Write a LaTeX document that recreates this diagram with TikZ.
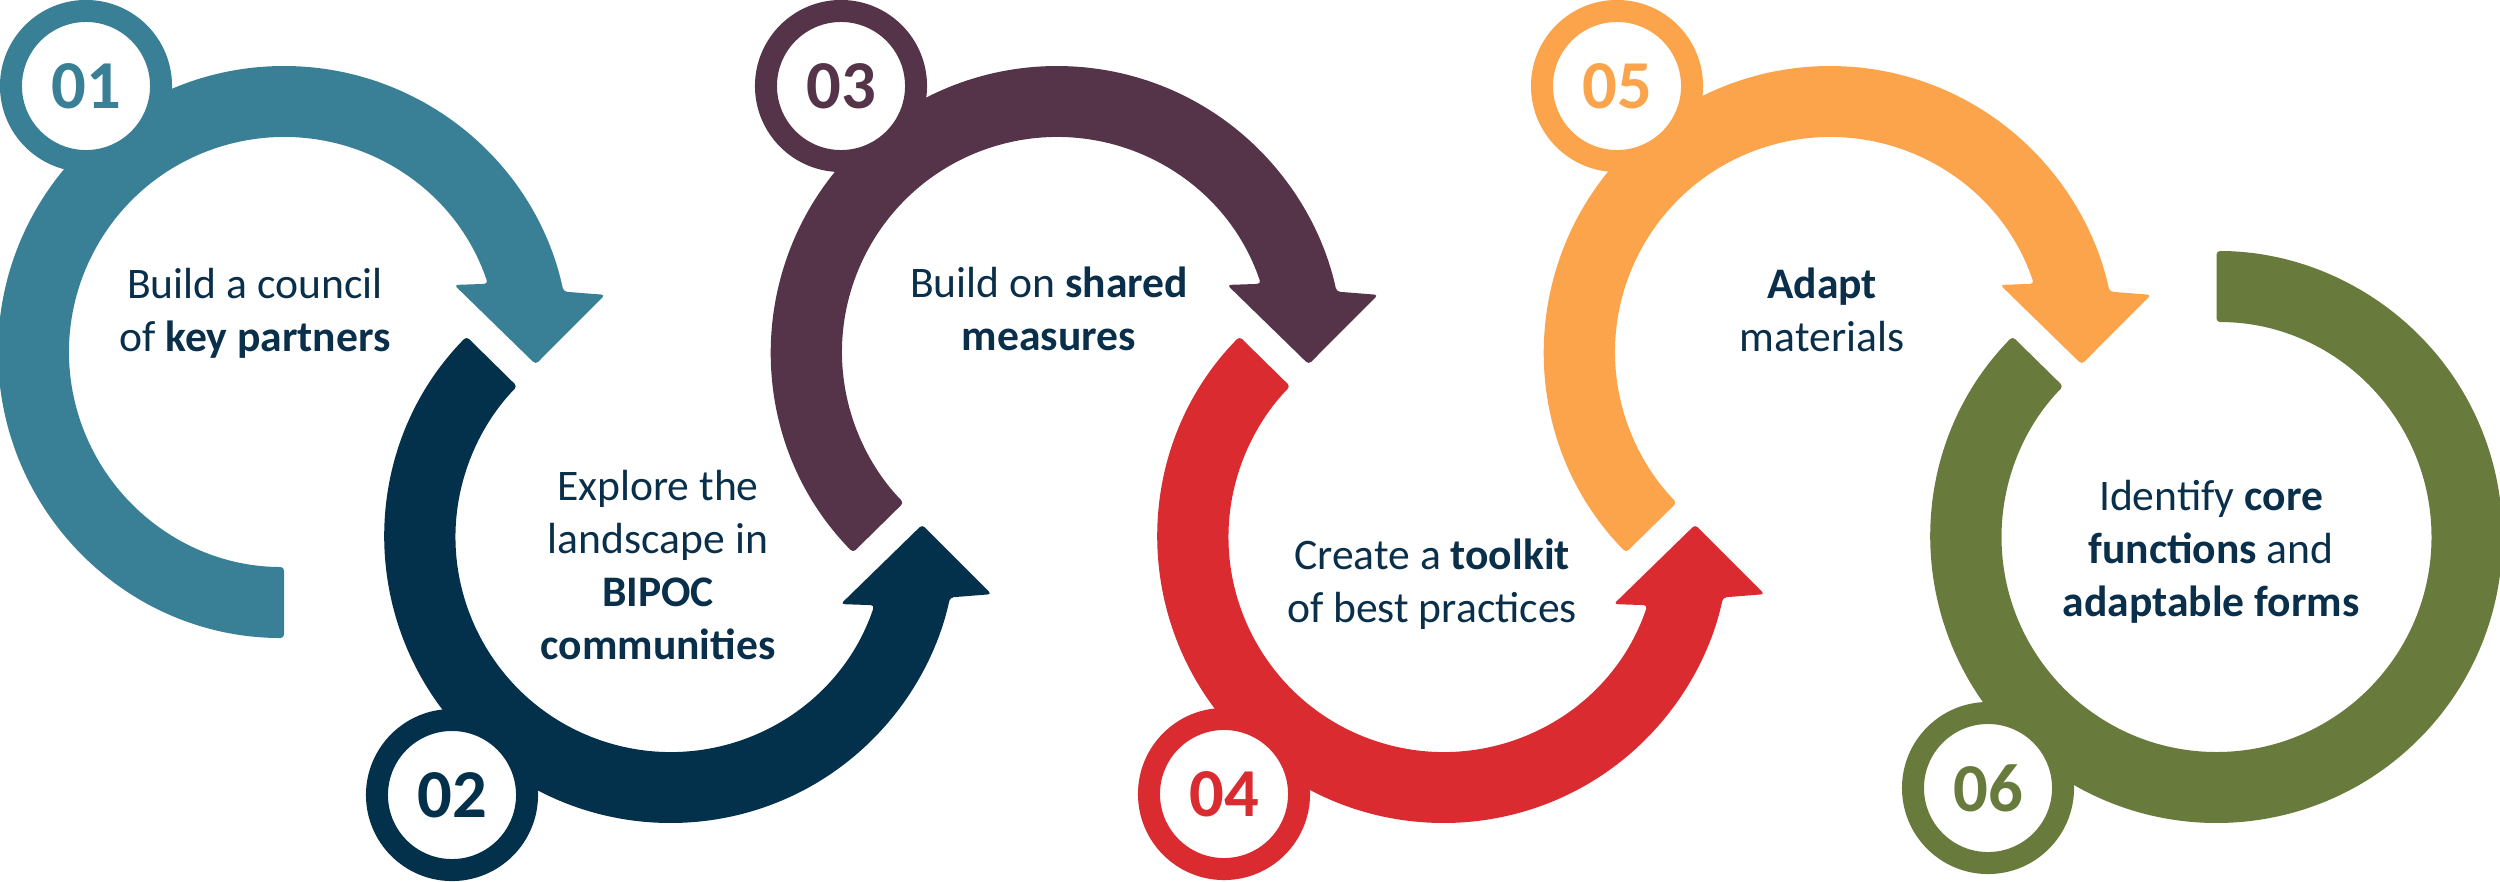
\documentclass[tikz,border=0pt]{standalone}
\usepackage{fontspec}
\setmainfont{Carlito}
\usepackage{xcolor}
\usepackage{tikz}
\usetikzlibrary{positioning}

\definecolor{stepteal}{HTML}{397F95}
\definecolor{stepnavy}{HTML}{03304A}
\definecolor{stepplum}{HTML}{55344A}
\definecolor{stepred}{HTML}{D92B30}
\definecolor{steporange}{HTML}{FCA44B}
\definecolor{stepolive}{HTML}{687B3D}
\definecolor{stepink}{HTML}{0A2F4A}

% #1 centre, #2 colour, #3 angle of the flat end
\newcommand{\steparcup}[3]{%
  \fill[#2, rounded corners=1pt, shift={#1}] (#3:286) arc[start angle=#3, end angle=347.8, radius=286]
    -- (-10.1:326) -- (2.8:252) -- (-21.5:183) -- (-18.5:215)
    arc[start angle=341.5, end angle=#3, radius=215] -- cycle;}
\newcommand{\steparcdown}[3]{%
  \fill[#2, rounded corners=1pt, shift={#1}] (#3:286) arc[start angle=#3, end angle=12.2, radius=286]
    -- (10.1:326) -- (-2.8:252) -- (21.5:183) -- (18.5:215)
    arc[start angle=18.5, end angle=#3, radius=215] -- cycle;}

\begin{document}
\begin{tikzpicture}[
      x=0.01cm, y=-0.01cm,
      badge/.style={circle, draw=#1, fill=white, line width=0.22cm, minimum size=1.5cm,
        inner sep=0pt, text=#1, font=\fontsize{19.5}{20}\selectfont\bfseries},
      lbl/.style={align=center, inner sep=0pt, text=stepink, font=\fontsize{12.4}{15}\selectfont},
    ]
    \clip (0,0) rectangle (2500,881);
    \steparcup{(284,352)}{stepteal}{90}
    \steparcdown{(670.5,537)}{stepnavy}{224.5}
    \steparcup{(1057,352)}{stepplum}{135.5}
    \steparcdown{(1443.5,537)}{stepred}{224.5}
    \steparcup{(1830,352)}{steporange}{135.5}
    \fill[stepolive, rounded corners=1pt, shift={(2216.5,537)}] (224.5:286) arc[start angle=224.5, end angle=-90, radius=286]
      -- (-90:215) arc[start angle=-90, end angle=224.5, radius=215] -- cycle;

    \node[badge=stepteal] (b1) at (86,86) {01};
    \node[badge=stepnavy] (b2) at (452,795) {02};
    \node[badge=stepplum] (b3) at (841,86) {03};
    \node[badge=stepred] (b4) at (1224,794) {04};
    \node[badge=steporange] (b5) at (1617,86) {05};
    \node[badge=stepolive] (b6) at (1988,788) {06};

    \node[lbl] (t1) at (255,313) {Build a council\\of \textbf{key partners}};
    \node[lbl] (t2) at (658,565) {Explore the\\landscape in\\\textbf{BIPOC}\\\textbf{communities}};
    \node[lbl] (t3) at (1049,309) {Build on \textbf{shared}\\\textbf{measures}};
    \node[lbl] (t4) at (1432,584) {Create a \textbf{toolkit}\\of best practices};
    \node[lbl] (t5) at (1822,310) {\textbf{Adapt}\\materials};
    \node[lbl] (t6) at (2211,552) {Identify \textbf{core}\\\textbf{functions} and\\\textbf{adaptable forms}};
  \end{tikzpicture}
\end{document}
